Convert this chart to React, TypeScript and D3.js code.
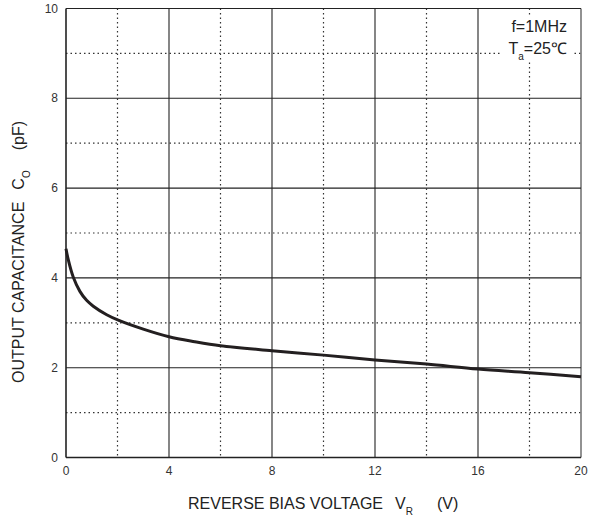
import React from "react";
import * as d3 from "d3";

const voltage = [0, 0.09, 0.28, 0.54, 0.8, 1.06, 1.58, 2.03, 3, 4, 5, 6, 8, 10, 12, 14, 16, 18, 20];
const capacitance = [4.65, 4.4, 4.02, 3.7, 3.5, 3.37, 3.18, 3.06, 2.86, 2.69, 2.58, 2.49, 2.38, 2.28, 2.17, 2.08, 1.97, 1.89, 1.8];
const xMajorTicks = [0, 4, 8, 12, 16, 20];
const xMinorTicks = [2, 6, 10, 14, 18];
const yMajorTicks = [0, 2, 4, 6, 8, 10];
const yMinorTicks = [1, 3, 5, 7, 9];

const W = 591;
const H = 521;
const M = { left: 66, right: 581, top: 8.5, bottom: 457.5 };
const FONT = "'Liberation Sans', Arial, sans-serif";

export default function App() {
  const x = d3.scaleLinear().domain([0, 20]).range([M.left, M.right]);
  const y = d3.scaleLinear().domain([0, 10]).range([M.bottom, M.top]);
  const pts: [number, number][] = voltage.map((v, i) => [v, capacitance[i]]);
  const line = d3
    .line<[number, number]>()
    .x((d) => x(d[0]))
    .y((d) => y(d[1]))
    .curve(d3.curveCatmullRom.alpha(0.5));

  return (
    <svg
      width={W}
      height={H}
      style={{ position: "absolute", left: 0, top: 0, background: "#fff" }}
      fontFamily={FONT}
    >
      <rect x={0} y={0} width={W} height={H} fill="#fff" />
      {xMinorTicks.map((t) => (
        <line key={"xm" + t} x1={x(t)} x2={x(t)} y1={M.top} y2={M.bottom} stroke="#333" strokeWidth={1.2} strokeDasharray="1.5 3" />
      ))}
      {yMinorTicks.map((t) => (
        <line key={"ym" + t} x1={M.left} x2={M.right} y1={y(t)} y2={y(t)} stroke="#333" strokeWidth={1.2} strokeDasharray="1.5 3" />
      ))}
      {xMajorTicks.map((t) => (
        <line key={"xM" + t} x1={x(t)} x2={x(t)} y1={M.top} y2={M.bottom} stroke={t === 20 ? "#777" : "#222"} strokeWidth={t === 0 || t === 20 ? 1.6 : 1.1} />
      ))}
      {yMajorTicks.map((t) => (
        <line key={"yM" + t} x1={M.left} x2={M.right} y1={y(t)} y2={y(t)} stroke="#222" strokeWidth={t === 0 ? 1.6 : 1.1} />
      ))}
      <rect x={500} y={15} width={74} height={47} fill="#fff" />
      <path d={line(pts) || ""} fill="none" stroke="#231f20" strokeWidth={3} />
      {yMajorTicks.map((t) => (
        <text key={"yl" + t} x={58} y={y(t) + 4} textAnchor="end" fontSize={12} fill="#333">
          {t}
        </text>
      ))}
      {xMajorTicks.map((t) => (
        <text key={"xl" + t} x={x(t)} y={475} textAnchor="middle" fontSize={12} fill="#333">
          {t}
        </text>
      ))}
      <text x={567} y={32} textAnchor="end" fontSize={16} fill="#222">f=1MHz</text>
      <text x={567} y={54} textAnchor="end" fontSize={16} fill="#222">
        T<tspan fontSize={10} dy={6}>a</tspan><tspan dy={-6}>=25℃</tspan>
      </text>
      <text x={188} y={509} textAnchor="start" fontSize={16} fill="#222">
        REVERSE BIAS VOLTAGE<tspan dx={12}>V</tspan><tspan fontSize={10} dy={6}>R</tspan><tspan dx={24} dy={-6}>(V)</tspan>
      </text>
      <text transform="translate(24,383) rotate(-90)" textAnchor="start" fontSize={16} fill="#222">
        OUTPUT CAPACITANCE<tspan dx={12}>C</tspan><tspan fontSize={10} dy={6}>O</tspan><tspan dx={20} dy={-6}>(pF)</tspan>
      </text>
    </svg>
  );
}
